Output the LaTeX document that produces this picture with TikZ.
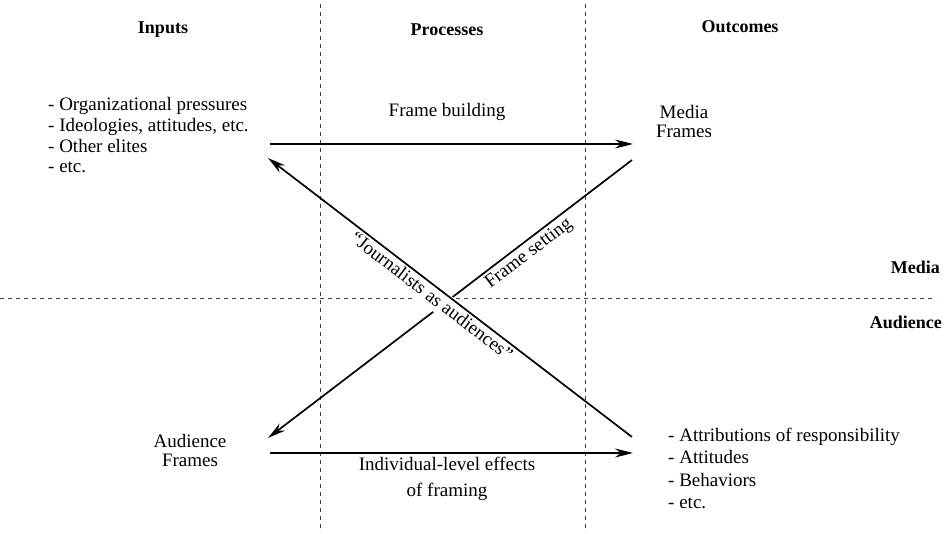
\documentclass[tikz,border=0pt]{standalone}
\usepackage{fontspec}
\setmainfont{Liberation Serif}
\usetikzlibrary{arrows.meta}
\begin{document}
\begin{tikzpicture}[x=1pt,y=-1pt,
  ltxt/.style={font=\fontsize{19}{20.8}\selectfont, inner sep=0pt, align=left},
  rtxt/.style={font=\fontsize{19}{22.5}\selectfont, inner sep=0pt, align=left},
  ctxt/.style={font=\fontsize{19}{19.8}\selectfont, inner sep=0pt, align=center},
  ctxtw/.style={font=\fontsize{19}{26}\selectfont, inner sep=0pt, align=center},
  hdr/.style={font=\fontsize{18}{22}\selectfont\bfseries, inner sep=0pt},
  divider/.style={line width=0.8pt, dash pattern=on 4pt off 4pt, black!75},
  arr/.style={line width=1.7pt, -{Stealth[length=18pt,width=9pt]}},
  slopelbl/.style={font=\fontsize{19}{21}\selectfont, inner xsep=1pt, inner ysep=5pt},
]
\useasboundingbox (0,0) rectangle (946,534);
% dividers
\coordinate (v1t) at (320,4);   \coordinate (v1b) at (320,532);
\coordinate (v2t) at (585,4);   \coordinate (v2b) at (585,532);
\coordinate (hl) at (0,298);    \coordinate (hr) at (936,298);
\draw[divider] (v1t) -- (v1b);
\draw[divider] (v2t) -- (v2b);
\draw[divider] (hl) -- (hr);
% headers
\node[hdr] (hin) at (163,30) {Inputs};
\node[hdr] (hpr) at (447,30) {Processes};
\node[hdr] (hout) at (740,27) {Outcomes};
\node[hdr, anchor=east] (hmedia) at (940,267) {Media};
\node[hdr, anchor=east] (haud) at (942,322) {Audience};
% texts (base anchor = baseline of the last line)
\node[ltxt, anchor=base west] (inp) at (48,173) {- Organizational pressures\\- Ideologies, attitudes, etc.\\- Other elites\\- etc.};
\node[ctxt, anchor=base] (mf) at (684,138) {Media\\Frames};
\node[ctxt, anchor=base] (af) at (190,467) {Audience\\Frames};
\node[ctxt, anchor=base] (fb) at (447,117) {Frame building};
\node[ctxtw, anchor=base] (ile) at (447,497) {Individual-level effects\\of framing};
\node[rtxt, anchor=base west] (out) at (668,509) {- Attributions of responsibility\\- Attitudes\\- Behaviors\\- etc.};
% connector ends
\coordinate (tl) at (270,144);  \coordinate (tr) at (633,144);
\coordinate (bl) at (270,453);  \coordinate (br) at (633,453);
\coordinate (d1s) at (632,160); \coordinate (d1e) at (268,438);
\coordinate (d2s) at (632,437); \coordinate (d2e) at (268,158);
\draw[arr] (tl) -- (tr);
\draw[arr] (bl) -- (br);
\draw[arr] (d1s) -- (d1e);
\node[slopelbl, rotate=37.4] (fs) at (529,254) {Frame setting};
\node[slopelbl, fill=white, rotate=-37.5] (ja) at (432,296) {“Journalists as audiences”};
\draw[arr] (d2s) -- (d2e);
\end{tikzpicture}
\end{document}
